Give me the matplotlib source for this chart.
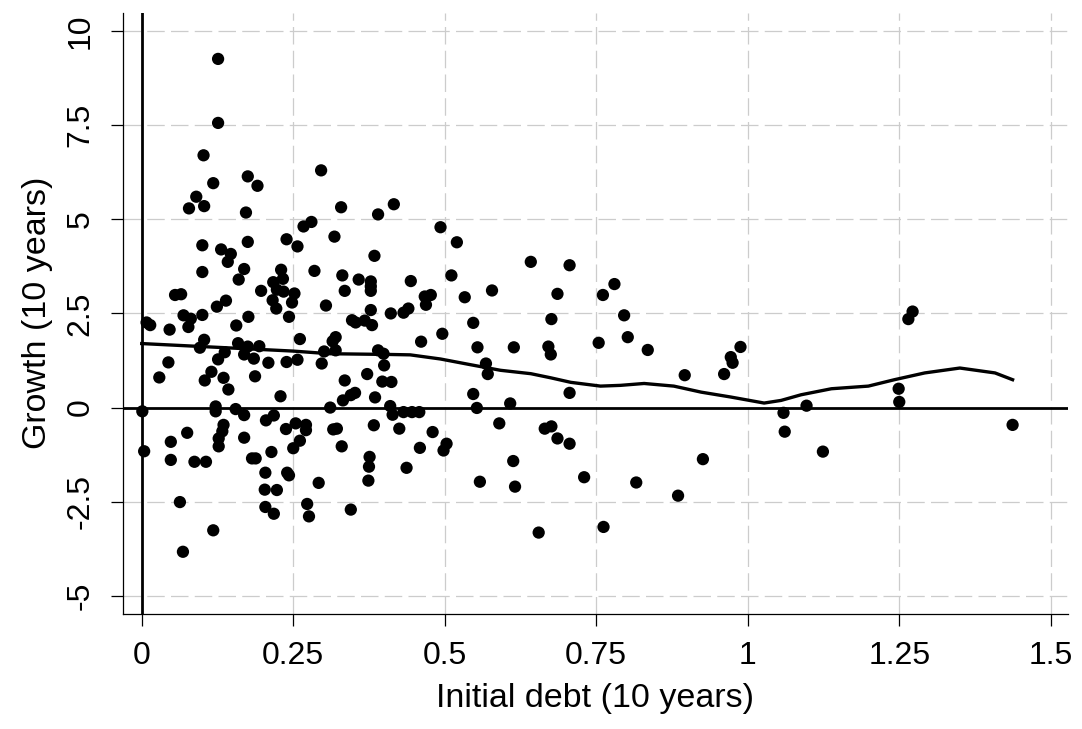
import numpy as np
import matplotlib.pyplot as plt

# scatter data
debt = [0.126, 0.126, 0.102, 0.296, 0.175, 0.191, 0.118, 0.090, 0.078, 0.103,
        0.172, 0.280, 0.267, 0.100, 0.175, 0.131, 0.147, 0.142, 0.239, 0.257,
        0.100, 0.169, 0.160, 0.285, 0.230, 0.233, 0.217, 0.197, 0.223, 0.234,
        0.252, 0.055, 0.065, 0.216, 0.248, 0.222, 0.139, 0.124, 0.304, 0.069,
        0.081, 0.077, 0.100, 0.176, 0.243, 0.008, 0.014, 0.046, 0.156, 0.261,
        0.103, 0.096, 0.159, 0.175, 0.194, 0.169, 0.185, 0.137, 0.126, 0.301,
        0.044, 0.209, 0.239, 0.257, 0.297, 0.115, 0.029, 0.104, 0.135, 0.143,
        0.187, 0.229, 0.001, 0.122, 0.122, 0.155, 0.169, 0.205, 0.218, 0.135,
        0.133, 0.127, 0.127, 0.075, 0.048, 0.004, 0.048, 0.087, 0.106, 0.169,
        0.238, 0.254, 0.271, 0.271, 0.261, 0.250, 0.214, 0.182, 0.188, 0.204,
        0.240, 0.243, 0.203, 0.223, 0.292, 0.063, 0.204, 0.218, 0.273, 0.276,
        0.118, 0.068,
        0.329, 0.390, 0.416, 0.493, 0.520, 0.318, 0.384, 0.331, 0.358, 0.378,
        0.378, 0.378, 0.444, 0.511, 0.578, 0.335, 0.467, 0.477, 0.469, 0.533,
        0.378, 0.411, 0.432, 0.440, 0.347, 0.353, 0.368, 0.380, 0.547, 0.496,
        0.461, 0.320, 0.315, 0.554, 0.614,
        0.320, 0.390, 0.399, 0.400, 0.568, 0.571, 0.372, 0.335, 0.397, 0.412,
        0.352, 0.345, 0.332, 0.385, 0.547, 0.311, 0.410, 0.414, 0.432, 0.446,
        0.458, 0.553, 0.608, 0.590, 0.383, 0.425, 0.480, 0.316, 0.322, 0.330,
        0.459, 0.503, 0.498, 0.376, 0.375, 0.437, 0.613, 0.374, 0.558, 0.616,
        0.345,
        0.642, 0.706, 0.686, 0.761, 0.780, 0.676, 0.796, 0.671, 0.675, 0.754,
        0.802, 0.835, 0.988, 0.972, 0.975, 0.961, 0.896, 0.706,
        0.665, 0.676, 0.686, 0.706, 0.730, 0.816, 0.885, 0.926, 0.655, 0.762,
        1.272, 1.265, 1.249, 1.250, 1.059, 1.061, 1.097, 1.124, 1.437]

growth = [9.26, 7.56, 6.70, 6.30, 6.14, 5.89, 5.96, 5.60, 5.29, 5.35,
          5.18, 4.93, 4.81, 4.31, 4.40, 4.20, 4.08, 3.87, 4.47, 4.28,
          3.60, 3.68, 3.40, 3.63, 3.66, 3.42, 3.33, 3.10, 3.13, 3.08,
          3.03, 2.99, 3.01, 2.85, 2.79, 2.63, 2.84, 2.68, 2.71, 2.45,
          2.36, 2.14, 2.46, 2.41, 2.41, 2.26, 2.19, 2.07, 2.18, 1.82,
          1.80, 1.59, 1.71, 1.62, 1.63, 1.41, 1.30, 1.47, 1.28, 1.49,
          1.20, 1.19, 1.21, 1.27, 1.17, 0.95, 0.80, 0.72, 0.79, 0.48,
          0.83, 0.30, -0.10, 0.03, -0.10, -0.04, -0.20, -0.34, -0.21, -0.46,
          -0.63, -0.82, -1.03, -0.67, -0.91, -1.16, -1.39, -1.44, -1.44, -0.80,
          -0.57, -0.42, -0.46, -0.60, -0.88, -1.08, -1.18, -1.35, -1.35, -1.73,
          -1.73, -1.80, -2.18, -2.19, -2.00, -2.51, -2.64, -2.82, -2.56, -2.89,
          -3.26, -3.83,
          5.32, 5.13, 5.40, 4.79, 4.39, 4.54, 4.03, 3.51, 3.40, 3.35,
          3.22, 3.10, 3.36, 3.51, 3.11, 3.10, 2.95, 2.99, 2.73, 2.93,
          2.59, 2.50, 2.52, 2.63, 2.32, 2.26, 2.31, 2.19, 2.25, 1.96,
          1.75, 1.87, 1.76, 1.60, 1.60,
          1.52, 1.52, 1.43, 1.12, 1.17, 0.89, 0.89, 0.72, 0.69, 0.68,
          0.39, 0.33, 0.19, 0.27, 0.36, 0.00, 0.04, -0.19, -0.12, -0.12,
          -0.12, -0.01, 0.11, -0.42, -0.47, -0.56, -0.65, -0.58, -0.56, -1.03,
          -1.07, -0.96, -1.14, -1.31, -1.57, -1.60, -1.42, -1.94, -1.97, -2.10,
          -2.71,
          3.87, 3.78, 3.02, 2.99, 3.28, 2.35, 2.45, 1.62, 1.41, 1.72,
          1.87, 1.53, 1.61, 1.34, 1.19, 0.89, 0.86, 0.39,
          -0.56, -0.50, -0.82, -0.96, -1.85, -1.99, -2.34, -1.37, -3.32, -3.17,
          2.55, 2.35, 0.50, 0.15, -0.14, -0.64, 0.05, -1.17, -0.46]

# smoothed (lowess) line
fit_x = [0.0, 0.15, 0.25, 0.31, 0.41, 0.443, 0.493, 0.542, 0.592, 0.642,
         0.675, 0.708, 0.757, 0.790, 0.829, 0.878, 0.923, 0.972, 1.027, 1.055,
         1.088, 1.138, 1.199, 1.242, 1.292, 1.350, 1.408, 1.437]
fit_y = [1.70, 1.58, 1.50, 1.43, 1.41, 1.40, 1.29, 1.14, 0.99, 0.90,
         0.79, 0.67, 0.57, 0.59, 0.64, 0.57, 0.41, 0.28, 0.12, 0.19,
         0.34, 0.50, 0.57, 0.74, 0.92, 1.05, 0.92, 0.74]

xticks = [0, 0.25, 0.5, 0.75, 1, 1.25, 1.5]
xticklabels = ['0', '0.25', '0.5', '0.75', '1', '1.25', '1.5']
yticks = [-5, -2.5, 0, 2.5, 5, 7.5, 10]
yticklabels = ['-5', '-2.5', '0', '2.5', '5', '7.5', '10']

plt.rcParams['font.family'] = ['Liberation Sans', 'DejaVu Sans']

fig = plt.figure(figsize=(10.82, 7.29), dpi=100)
ax = fig.add_axes([0.1134, 0.1584, 0.8737, 0.8238])

ax.set_xlim(-0.0314, 1.5285)
ax.set_ylim(-5.47, 10.48)

# grid
for v in xticks:
    ax.axvline(v, color='#cccccc', lw=0.9, ls=(0, (14, 5)), zorder=0)
for v in yticks:
    ax.axhline(v, color='#cccccc', lw=0.9, ls=(0, (14, 5)), zorder=0)

ax.axhline(0, color='black', lw=2.0, zorder=2)
ax.axvline(0, color='black', lw=2.0, zorder=2)

ax.scatter(debt, growth, s=78, color='black', edgecolors='none', zorder=3)
ax.plot(fit_x, fit_y, color='black', lw=2.4, zorder=4)

ax.spines['top'].set_visible(False)
ax.spines['right'].set_visible(False)
ax.spines['left'].set_linewidth(0.9)
ax.spines['bottom'].set_linewidth(0.9)

ax.set_xticks(xticks)
ax.set_xticklabels(xticklabels)
ax.set_yticks(yticks)
ax.set_yticklabels(yticklabels, rotation=90, va='center')
ax.tick_params(axis='both', length=8.5, width=0.9, labelsize=23, pad=11)

ax.set_xlabel('Initial debt (10 years)', fontsize=24.5, labelpad=9)
ax.set_ylabel('Growth (10 years)', fontsize=24.5, labelpad=9)

fig.savefig('out.png', dpi=100)
